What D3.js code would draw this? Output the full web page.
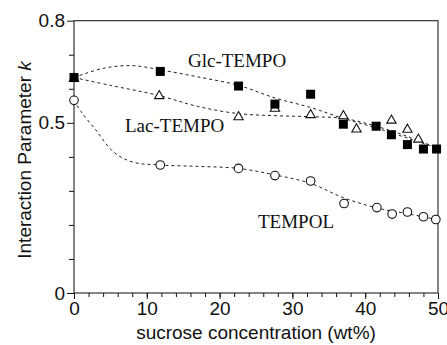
<!DOCTYPE html>
<html>
<head>
<meta charset="utf-8">
<script src="https://cdn.jsdelivr.net/npm/d3@7"></script>
<style>
  body { margin: 0; background: #fff; }
  svg { display: block; }
</style>
</head>
<body>
<div id="chart"></div>
<script>
/**
 * Data
 */
const glcX = [0, 11.85, 22.6, 27.6, 32.5, 37.0, 41.5, 43.6, 45.8, 48.0, 49.8];
const glcK = [0.633, 0.651, 0.608, 0.555, 0.584, 0.496, 0.490, 0.465, 0.436, 0.423, 0.423];

const lacX = [0, 11.7, 22.6, 27.6, 32.5, 37.0, 38.8, 43.6, 45.8, 47.3];
const lacK = [0.633, 0.582, 0.520, 0.545, 0.526, 0.523, 0.484, 0.510, 0.483, 0.454];

const tempolX = [0, 11.85, 22.6, 27.6, 32.5, 37.1, 41.6, 43.7, 45.8, 48.0, 49.7];
const tempolK = [0.566, 0.376, 0.366, 0.345, 0.329, 0.263, 0.251, 0.232, 0.238, 0.224, 0.216];

// dashed guide curves
const glcFitX = [0, 4, 8, 12, 17, 22.6, 27.6, 32.5, 37, 41.5, 45.8, 50];
const glcFitK = [0.633, 0.660, 0.668, 0.655, 0.635, 0.610, 0.573, 0.545, 0.513, 0.485, 0.455, 0.425];

const lacFitX = [0, 5, 11.7, 17, 22.6, 27.6, 32.5, 37, 41.5, 45.8, 50];
const lacFitK = [0.633, 0.610, 0.580, 0.548, 0.527, 0.521, 0.518, 0.513, 0.490, 0.460, 0.425];

const tempolFitX = [0, 1, 3, 5.4, 8, 11.85, 17, 22.6, 27.6, 32.5, 37, 41.6, 45.8, 50];
const tempolFitK = [0.566, 0.532, 0.479, 0.415, 0.385, 0.376, 0.372, 0.366, 0.347, 0.322, 0.280, 0.250, 0.233, 0.215];

const xMajor = [0, 10, 20, 30, 40, 50];
const xMinor = d3.range(0, 51, 2);
const yMajor = [0, 0.5, 0.8];
const yMinor = [0.1, 0.2, 0.3, 0.4, 0.6, 0.7];

/**
 * Basic Settings
 */
const canvasWidth = 447;
const canvasHeight = 345;
const plotLeft = 74, plotRight = 438, plotTop = 20.7, plotBottom = 293;
const axisFont = "'Liberation Sans', Arial, Helvetica, sans-serif";
const serifFont = "'Liberation Serif', 'Times New Roman', serif";

const svg = d3.select("#chart")
  .append("svg")
  .attr("width", canvasWidth)
  .attr("height", canvasHeight);

const xScale = d3.scaleLinear().domain([0, 50]).range([plotLeft, plotRight]);
const yScale = d3.scaleLinear().domain([0, 0.8]).range([plotBottom, plotTop]);

/**
 * Axes
 */
const xMinorAxis = d3.axisBottom(xScale).tickValues(xMinor).tickSize(4).tickFormat("");
const xMajorAxis = d3.axisBottom(xScale).tickValues(xMajor).tickSize(6).tickPadding(3)
  .tickFormat(d3.format("d"));
const yMinorAxis = d3.axisLeft(yScale).tickValues(yMinor).tickSize(5).tickFormat("");
const yMajorAxis = d3.axisLeft(yScale).tickValues(yMajor).tickSize(7).tickPadding(2)
  .tickFormat(d => d === 0 ? "0" : d3.format(".1f")(d));

[xMinorAxis, xMajorAxis].forEach(ax => {
  svg.append("g")
    .attr("transform", "translate(0," + plotBottom + ")")
    .call(ax)
    .call(g => g.select(".domain").remove());
});
[yMinorAxis, yMajorAxis].forEach(ax => {
  svg.append("g")
    .attr("transform", "translate(" + plotLeft + ",0)")
    .call(ax)
    .call(g => g.select(".domain").remove());
});

svg.selectAll(".tick line").attr("stroke", "#111").attr("stroke-width", 1);
svg.selectAll(".tick text")
  .attr("fill", "#111")
  .style("font-family", axisFont)
  .style("font-size", "19px");

// frame
svg.append("rect")
  .attr("x", plotLeft)
  .attr("y", plotTop)
  .attr("width", plotRight - plotLeft)
  .attr("height", plotBottom - plotTop)
  .attr("fill", "none")
  .attr("stroke", "#222")
  .attr("stroke-width", 1.1);

/**
 * Fit curves
 */
const line = d3.line()
  .x(d => xScale(d[0]))
  .y(d => yScale(d[1]))
  .curve(d3.curveCatmullRom.alpha(0.5));

[[glcFitX, glcFitK], [lacFitX, lacFitK], [tempolFitX, tempolFitK]].forEach(([xs, ks]) => {
  svg.append("path")
    .datum(d3.zip(xs, ks))
    .attr("d", line)
    .attr("fill", "none")
    .attr("stroke", "#222")
    .attr("stroke-width", 1)
    .attr("stroke-dasharray", "3,3");
});

/**
 * Markers
 */
svg.append("g")
  .selectAll("circle")
  .data(d3.zip(tempolX, tempolK))
  .enter()
  .append("circle")
  .attr("cx", d => xScale(d[0]))
  .attr("cy", d => yScale(d[1]))
  .attr("r", 4.3)
  .attr("fill", "#fff")
  .attr("stroke", "#111")
  .attr("stroke-width", 1.1);

const tri = d3.symbol().type(d3.symbolTriangle).size(38);
svg.append("g")
  .selectAll("path")
  .data(d3.zip(lacX, lacK))
  .enter()
  .append("path")
  .attr("d", tri)
  .attr("transform", d => "translate(" + xScale(d[0]) + "," + (yScale(d[1]) + 1) + ")")
  .attr("fill", "#fff")
  .attr("stroke", "#111")
  .attr("stroke-width", 1.1);

const sq = 9;
svg.append("g")
  .selectAll("rect")
  .data(d3.zip(glcX, glcK))
  .enter()
  .append("rect")
  .attr("x", d => xScale(d[0]) - sq / 2)
  .attr("y", d => yScale(d[1]) - sq / 2)
  .attr("width", sq)
  .attr("height", sq)
  .attr("fill", "#000");

/**
 * Labels
 */
const seriesLabels = [
  { text: "Glc-TEMPO", x: 188, y: 67 },
  { text: "Lac-TEMPO", x: 125, y: 132 },
  { text: "TEMPOL", x: 258, y: 228 }
];
svg.selectAll(".series-label")
  .data(seriesLabels)
  .enter()
  .append("text")
  .attr("class", "series-label")
  .attr("x", d => d.x)
  .attr("y", d => d.y)
  .style("font-family", serifFont)
  .style("font-size", "19px")
  .attr("fill", "#111")
  .text(d => d.text);

svg.append("text")
  .attr("x", (plotLeft + plotRight) / 2)
  .attr("y", 339)
  .attr("text-anchor", "middle")
  .style("font-family", axisFont)
  .style("font-size", "19px")
  .attr("fill", "#111")
  .text("sucrose concentration (wt%)");

const yLabel = svg.append("text")
  .attr("transform", "translate(31,160) rotate(-90)")
  .attr("text-anchor", "middle")
  .style("font-family", axisFont)
  .style("font-size", "19px")
  .attr("fill", "#111");
yLabel.append("tspan").text("Interaction Parameter ");
yLabel.append("tspan").style("font-style", "italic").text("k");
</script>
</body>
</html>
